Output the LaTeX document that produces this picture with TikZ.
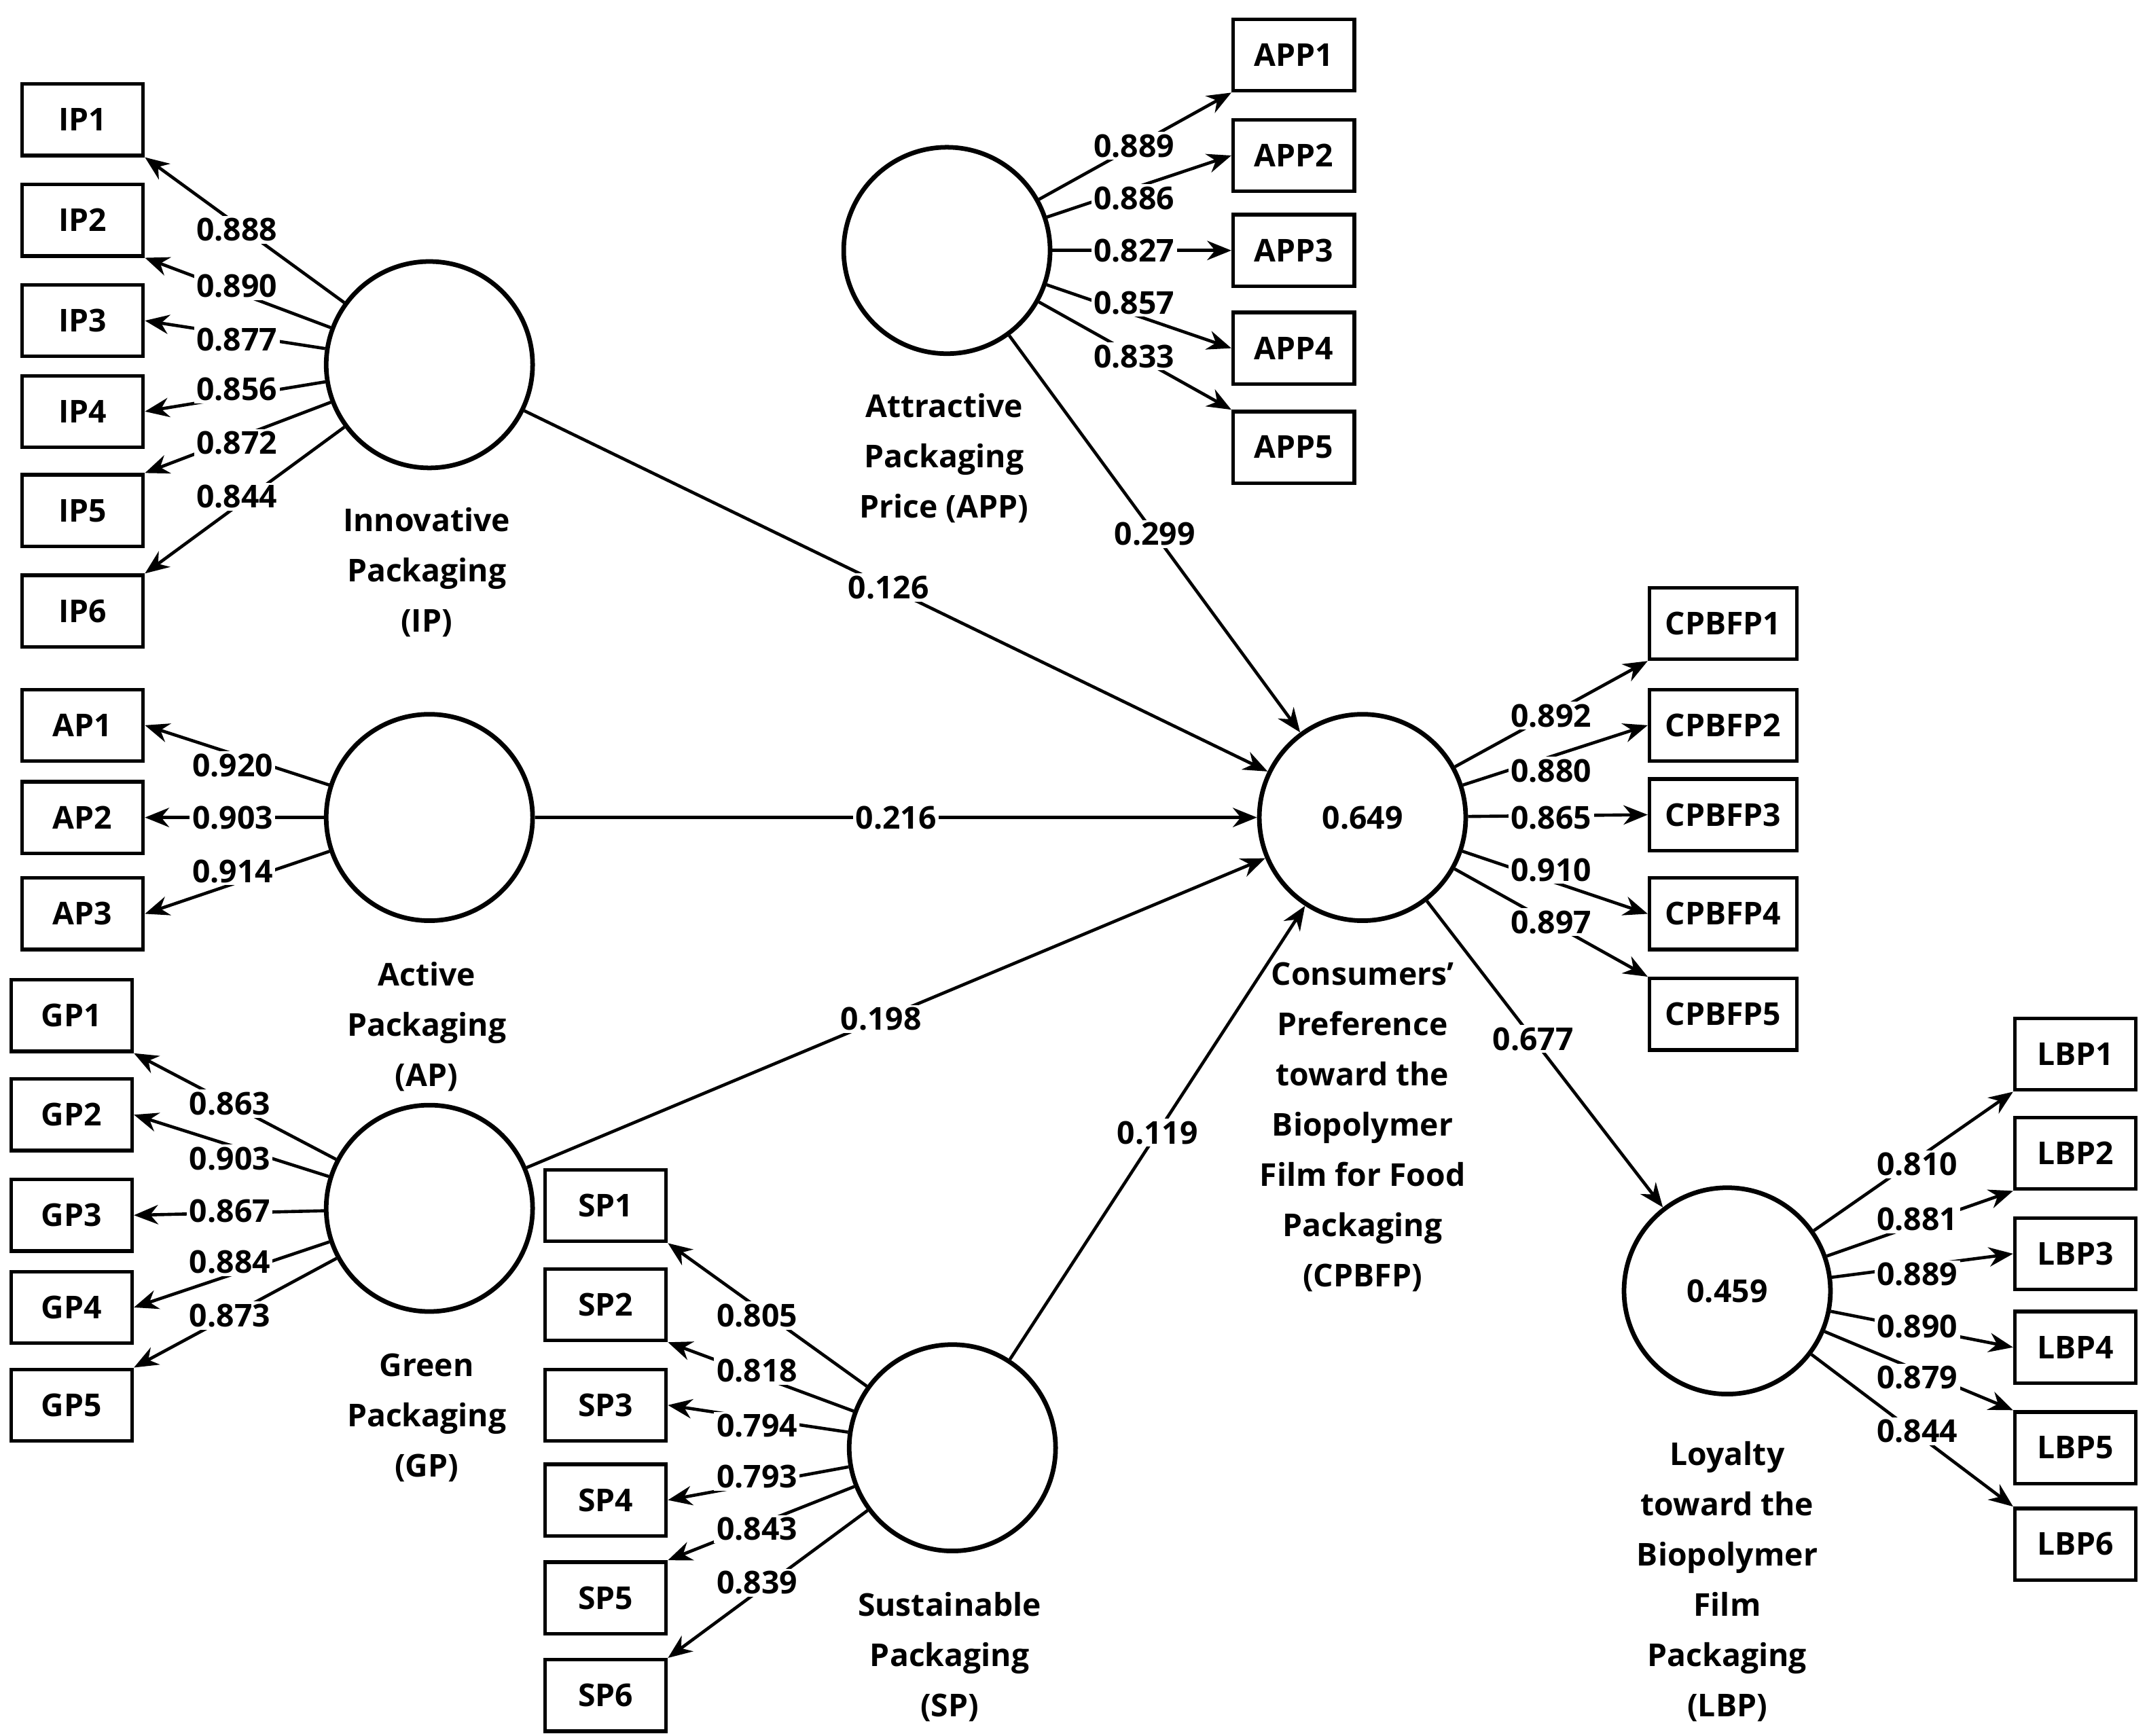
\documentclass[tikz,border=0pt]{standalone}
\usepackage{fontspec}
\setmainfont{Open Sans}
\usetikzlibrary{arrows.meta}
\begin{document}
\begin{tikzpicture}[x=0.02cm,y=-0.02cm,
 every node/.style={font=\bfseries\fontsize{13}{15}\selectfont},
 lv/.style={circle,draw,line width=1.9pt,minimum size=3cm,inner sep=0pt},
 box/.style={draw,line width=1.5pt,minimum width=1.76cm,minimum height=1.04cm,inner sep=0pt},
 wbox/.style={box,minimum width=2.14cm},
 ar/.style={line width=1.3pt,-{Stealth[length=10pt,width=8pt]}},
 lab/.style={fill=white,inner sep=1pt},
 ttl/.style={align=center,font=\bfseries\fontsize{13}{20.8}\selectfont,inner sep=0pt},
]
\useasboundingbox (0,0) rectangle (1560,1261);
% latent variables
\node[lv] (IP) at (312,265) {};
\node[lv] (AP) at (312,594) {};
\node[lv] (GP) at (312,878) {};
\node[lv] (SP) at (692,1052) {};
\node[lv] (APP) at (688,182) {};
\node[lv] (CP) at (990,594) {0.649};
\node[lv] (LBP) at (1255,938) {0.459};
% titles
\node[ttl] (tIP) at (310,416) {Innovative\\Packaging\\(IP)};
\node[ttl] (tAP) at (310,746) {Active\\Packaging\\(AP)};
\node[ttl] (tGP) at (310,1030) {Green\\Packaging\\(GP)};
\node[ttl] (tSP) at (690,1204) {Sustainable\\Packaging\\(SP)};
\node[ttl] (tAPP) at (686,333) {Attractive\\Packaging\\Price (APP)};
\node[ttl] (tCP) at (990,819) {Consumers'\\Preference\\toward the\\Biopolymer\\Film for Food\\Packaging\\(CPBFP)};
\node[ttl] (tLBP) at (1255,1149) {Loyalty\\toward the\\Biopolymer\\Film\\Packaging\\(LBP)};
% IP
\foreach \i/\y/\a/\l/\ly in {1/87/south east/0.888/167,2/160/south east/0.890/208,3/233/east/0.877/247,4/299/east/0.856/283,5/371/north east/0.872/322,6/444/north east/0.844/361}{
 \node[box] (IP\i) at (60,\y) {IP\i};
 \draw[ar] (IP) -- (IP\i.\a);
 \node[lab] (lIP\i) at (172,\ly) {\l};}
% AP
\foreach \i/\y/\l/\ly in {1/527/0.920/556,2/594/0.903/594,3/664/0.914/633}{
 \node[box] (AP\i) at (60,\y) {AP\i};
 \draw[ar] (AP) -- (AP\i.east);
 \node[lab] (lAP\i) at (169,\ly) {\l};}
% GP
\foreach \i/\y/\a/\l/\ly in {1/738/south east/0.863/802,2/810/east/0.903/842,3/883/east/0.867/880,4/950/east/0.884/917,5/1021/north east/0.873/956}{
 \node[box] (GP\i) at (52,\y) {GP\i};
 \draw[ar] (GP) -- (GP\i.\a);
 \node[lab] (lGP\i) at (167,\ly) {\l};}
% SP
\foreach \i/\y/\a/\l/\ly in {1/876/south east/0.805/956,2/948/south east/0.818/996,3/1021/east/0.794/1036,4/1090/east/0.793/1073,5/1161/north east/0.843/1111,6/1232/north east/0.839/1150}{
 \node[box] (SP\i) at (440,\y) {SP\i};
 \draw[ar] (SP) -- (SP\i.\a);
 \node[lab] (lSP\i) at (550,\ly) {\l};}
% APP
\foreach \i/\y/\a/\l/\ly in {1/40/south west/0.889/106,2/113/west/0.886/144,3/182/west/0.827/182,4/253/west/0.857/220,5/325/north west/0.833/259}{
 \node[box] (APP\i) at (940,\y) {APP\i};
 \draw[ar] (APP) -- (APP\i.\a);
 \node[lab] (lAPP\i) at (824,\ly) {\l};}
% CPBFP
\foreach \i/\y/\a/\l/\ly in {1/453/south west/0.892/520,2/527/west/0.880/560,3/592/west/0.865/594,4/664/west/0.910/632,5/737/north west/0.897/670}{
 \node[wbox] (CP\i) at (1252,\y) {CPBFP\i};
 \draw[ar] (CP) -- (CP\i.\a);
 \node[lab] (lCP\i) at (1127,\ly) {\l};}
% LBP
\foreach \i/\y/\a/\l/\ly in {1/766/south west/0.810/846,2/838/south west/0.881/886,3/911/west/0.889/926,4/979/west/0.890/964,5/1052/north west/0.879/1001,6/1122/north west/0.844/1040}{
 \node[box] (LBP\i) at (1508,\y) {LBP\i};
 \draw[ar] (LBP) -- (LBP\i.\a);
 \node[lab] (lLBP\i) at (1393,\ly) {\l};}
% structural paths
\draw[ar] (IP) -- (CP) node[lab,pos=0.49] (s1) {0.126};
\draw[ar] (APP) -- (CP) node[lab,pos=0.5] (s2) {0.299};
\draw[ar] (AP) -- (CP) node[lab,midway] (s3) {0.216};
\draw[ar] (GP) -- (CP) node[lab,pos=0.48] (s4) {0.198};
\draw[ar] (SP) -- (CP) node[lab,pos=0.5] (s5) {0.119};
\draw[ar] (CP) -- (LBP) node[lab,pos=0.45] (s6) {0.677};
\end{tikzpicture}
\end{document}
